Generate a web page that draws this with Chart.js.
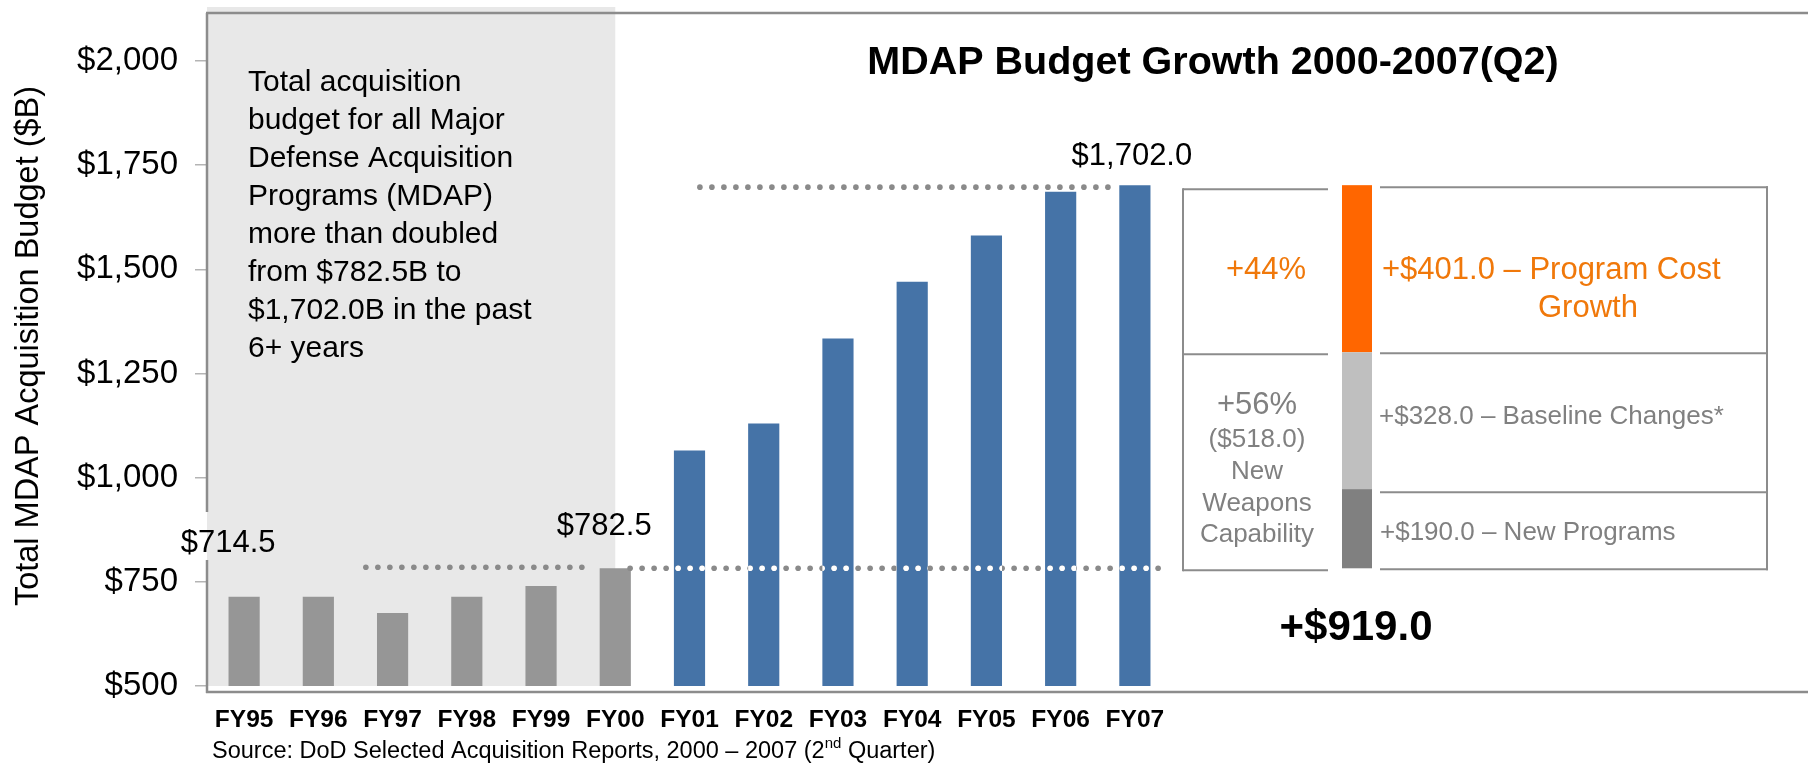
<!DOCTYPE html>
<html>
<head>
<meta charset="utf-8">
<script src="https://cdn.jsdelivr.net/npm/chart.js@4.4.0/dist/chart.umd.min.js"></script>
<style>
html,body{margin:0;padding:0;background:#fff;overflow:hidden}
canvas{display:block}
</style>
</head>
<body>
<canvas id="c" width="1808" height="766"></canvas>
<script>
// ---------- data ----------
const categories = ['FY95','FY96','FY97','FY98','FY99','FY00','FY01','FY02','FY03','FY04','FY05','FY06','FY07'];
const budgetValues = [714.5, 714.5, 675, 714.5, 740, 782.5, 1065, 1130, 1334, 1470, 1581, 1686, 1702.0];
const yTickValues = [500, 750, 1000, 1250, 1500, 1750, 2000];
const baseValue = 782.5;          // FY00
const finalValue = 1702.0;        // FY07
const growthValues = [190.0, 328.0, 401.0];   // New Programs, Baseline Changes, Program Cost Growth
const growthLabels = ['+$190.0 – New Programs', '+$328.0 – Baseline Changes*', '+$401.0 – Program Cost'];
const totalGrowthLabel = '+$919.0';
const shareLabels = ['+56%', '+44%'];
const barLabels = ['$714.5', '$782.5', '$1,702.0'];
const noteLines = ['Total acquisition','budget for all Major','Defense Acquisition','Programs (MDAP)','more than doubled','from $782.5B to','$1,702.0B in the past','6+ years'];
const newCapLines = ['($518.0)','New','Weapons','Capability'];

// ---------- style ----------
const FONT = '"Liberation Sans", Arial, Helvetica, sans-serif';
const GRAY_BAR = '#969696', BLUE_BAR = '#4573a7';
const LINE = '#8c8c8c';
const ORANGE = '#ff6600', ORANGE_TXT = '#f0780a', TXT_GRAY = '#808080';
const barColors = categories.map((c, i) => i < 6 ? GRAY_BAR : BLUE_BAR);

function text(ctx, s, x, y, size, opt) {
  opt = opt || {};
  ctx.save();
  ctx.font = (opt.bold ? 'bold ' : '') + size + 'px ' + FONT;
  ctx.fillStyle = opt.color || '#000';
  ctx.textAlign = opt.align || 'left';
  ctx.textBaseline = 'middle';
  ctx.fillText(s, x, y);
  ctx.restore();
}
function hline(ctx, x0, x1, y, w) {
  ctx.beginPath(); ctx.moveTo(x0, y); ctx.lineTo(x1, y);
  ctx.lineWidth = w || 2; ctx.strokeStyle = LINE; ctx.stroke();
}
function vline(ctx, x, y0, y1, w) {
  ctx.beginPath(); ctx.moveTo(x, y0); ctx.lineTo(x, y1);
  ctx.lineWidth = w || 2; ctx.strokeStyle = LINE; ctx.stroke();
}
function dots(ctx, chart, x0, x1, y) {
  const pts = [];
  for (let x = x0; x <= x1 + 0.1; x += 12) pts.push(x);
  ctx.save();
  ctx.fillStyle = '#8a8a8a';
  pts.forEach(x => { ctx.beginPath(); ctx.arc(x, y, 2.8, 0, Math.PI * 2); ctx.fill(); });
  ctx.restore();
  // where the dots cross the blue bars they show as white dots
  ctx.save();
  ctx.beginPath();
  chart.getDatasetMeta(0).data.forEach((el, i) => {
    if (i >= 6) ctx.rect(el.x - el.width / 2, el.y, el.width, el.base - el.y);
  });
  ctx.clip();
  pts.forEach(x => {
    ctx.beginPath(); ctx.arc(x, y, 2.8, 0, Math.PI * 2);
    ctx.fillStyle = '#ffffff'; ctx.fill();
  });
  ctx.restore();
}

const decor = {
  id: 'decor',
  beforeDraw(chart) {
    const ctx = chart.ctx, a = chart.chartArea, xs = chart.scales.x;
    ctx.save();
    ctx.fillStyle = '#fff'; ctx.fillRect(0, 0, chart.width, chart.height);
    // shaded "pre-2001" background, ending at the middle of FY00
    const grayRight = xs.getPixelForValue(5);
    ctx.fillStyle = '#e8e8e8';
    ctx.fillRect(a.left, a.top - 6, grayRight - a.left, a.bottom - a.top + 6);
    ctx.restore();
  },
  beforeDatasetsDraw(chart) {
    const ctx = chart.ctx, a = chart.chartArea;
    ctx.save();
    hline(ctx, a.left - 1, chart.width, a.top, 2.5);
    hline(ctx, a.left - 1, chart.width, a.bottom + 6, 2.5);
    vline(ctx, a.left, a.top, 512, 2.5);
    vline(ctx, a.left, 560, a.bottom + 7, 2.5);
    ctx.restore();
  },
  afterDatasetsDraw(chart) {
    const ctx = chart.ctx, a = chart.chartArea, xs = chart.scales.x, ys = chart.scales.y;
    const step = xs.getPixelForValue(1) - xs.getPixelForValue(0);
    const xAt = f => xs.getPixelForValue(0) + step * f;
    ctx.save();
    // dotted reference lines
    dots(ctx, chart, xAt(1.64), xAt(4.63), ys.getPixelForValue(baseValue) - 1);
    dots(ctx, chart, xAt(5.2), xAt(12.45), ys.getPixelForValue(baseValue));
    dots(ctx, chart, xAt(6.14), xAt(11.66), ys.getPixelForValue(finalValue) + 2);

    // value labels
    text(ctx, barLabels[0], xs.getPixelForValue(0) - 16, ys.getPixelForValue(budgetValues[0]) - 53, 31, {align: 'center'});
    text(ctx, barLabels[1], xs.getPixelForValue(5) - 11, ys.getPixelForValue(budgetValues[5]) - 42, 31, {align: 'center'});
    text(ctx, barLabels[2], xs.getPixelForValue(12) - 3, ys.getPixelForValue(budgetValues[12]) - 29, 31, {align: 'center'});

    // title
    text(ctx, 'MDAP Budget Growth 2000-2007(Q2)', 1213, 63, 39.5, {bold: true, align: 'center'});

    // note text
    noteLines.forEach((l, i) => text(ctx, l, 248, 83 + i * 38, 30));

    // y-axis title
    ctx.save();
    ctx.translate(29, 346); ctx.rotate(-Math.PI / 2);
    text(ctx, 'Total MDAP Acquisition Budget ($B)', 0, 0, 32.5, {align: 'center'});
    ctx.restore();

    // ---- growth breakdown panel ----
    const yTop = ys.getPixelForValue(finalValue);
    const y2 = ys.getPixelForValue(finalValue - growthValues[2]);
    const y1 = ys.getPixelForValue(baseValue + growthValues[0]);
    const yBase = ys.getPixelForValue(baseValue);
    // stacked bar
    const bx = 1342, bw = 30;
    ctx.fillStyle = ORANGE; ctx.fillRect(bx, yTop, bw, y2 - yTop);
    ctx.fillStyle = '#bfbfbf'; ctx.fillRect(bx, y2, bw, y1 - y2);
    ctx.fillStyle = '#808080'; ctx.fillRect(bx, y1, bw, yBase - y1);
    // left box (open on the right)
    hline(ctx, 1183, 1328, yTop + 4);
    hline(ctx, 1183, 1328, y2 + 2);
    hline(ctx, 1183, 1328, yBase + 2);
    vline(ctx, 1183, yTop + 3, yBase + 3);
    // right box (open on the left)
    hline(ctx, 1380, 1768, yTop + 2);
    hline(ctx, 1380, 1768, y2 + 1);
    hline(ctx, 1380, 1768, y1 + 3);
    hline(ctx, 1380, 1768, yBase + 1);
    vline(ctx, 1767, yTop + 1, yBase + 2);

    // panel texts
    text(ctx, shareLabels[1], 1266, 270, 31, {align: 'center', color: ORANGE_TXT});
    text(ctx, growthLabels[2], 1382, 270, 31, {color: ORANGE_TXT});
    text(ctx, 'Growth', 1538, 308, 31, {color: ORANGE_TXT});
    text(ctx, shareLabels[0], 1257, 405, 31, {align: 'center', color: TXT_GRAY});
    newCapLines.forEach((l, i) => text(ctx, l, 1257, 440 + i * 31.7, 26, {align: 'center', color: TXT_GRAY}));
    text(ctx, growthLabels[1], 1379, 417, 26, {color: TXT_GRAY});
    text(ctx, growthLabels[0], 1380, 533, 26, {color: TXT_GRAY});
    text(ctx, totalGrowthLabel, 1356, 628, 42, {bold: true, align: 'center'});

    // source
    ctx.font = '23.5px ' + FONT;
    const s1 = 'Source: DoD Selected Acquisition Reports, 2000 – 2007 (2';
    const w1 = ctx.measureText(s1).width;
    text(ctx, s1, 212, 752, 23.5);
    ctx.font = '15px ' + FONT;
    const w2 = ctx.measureText('nd').width;
    text(ctx, 'nd', 212 + w1, 744, 15);
    text(ctx, ' Quarter)', 212 + w1 + w2, 752, 23.5);
    ctx.restore();
  }
};

new Chart(document.getElementById('c').getContext('2d'), {
  type: 'bar',
  data: {
    labels: categories,
    datasets: [{
      data: budgetValues,
      backgroundColor: barColors,
      borderWidth: 0,
      barPercentage: 0.42,
      categoryPercentage: 1
    }]
  },
  options: {
    responsive: false,
    animation: false,
    devicePixelRatio: 1,
    layout: { padding: { top: 13, right: 636, left: 0, bottom: 0 } },
    plugins: { legend: { display: false }, tooltip: { enabled: false }, title: { display: false } },
    scales: {
      x: {
        grid: { display: false, drawTicks: false },
        border: { display: false },
        ticks: { font: { family: FONT, size: 24.5, weight: 'bold' }, color: '#000', padding: 20, maxRotation: 0, autoSkip: false },
        afterFit: s => { s.height = 80; s.paddingLeft = 0; s.paddingRight = 0; }
      },
      y: {
        min: 500,
        max: 2115.2,
        afterBuildTicks: s => { s.ticks = yTickValues.map(v => ({ value: v })); },
        ticks: {
          font: { family: FONT, size: 33 }, color: '#000', padding: 17,
          callback: v => '$' + Number(v).toLocaleString('en-US')
        },
        grid: { drawOnChartArea: false, drawTicks: true, tickLength: 12, color: '#b4b4b4', lineWidth: 1.5 },
        border: { display: false },
        afterFit: s => { s.width = 207; s.paddingTop = 0; s.paddingBottom = 0; }
      }
    }
  },
  plugins: [decor]
});
</script>
</body>
</html>
